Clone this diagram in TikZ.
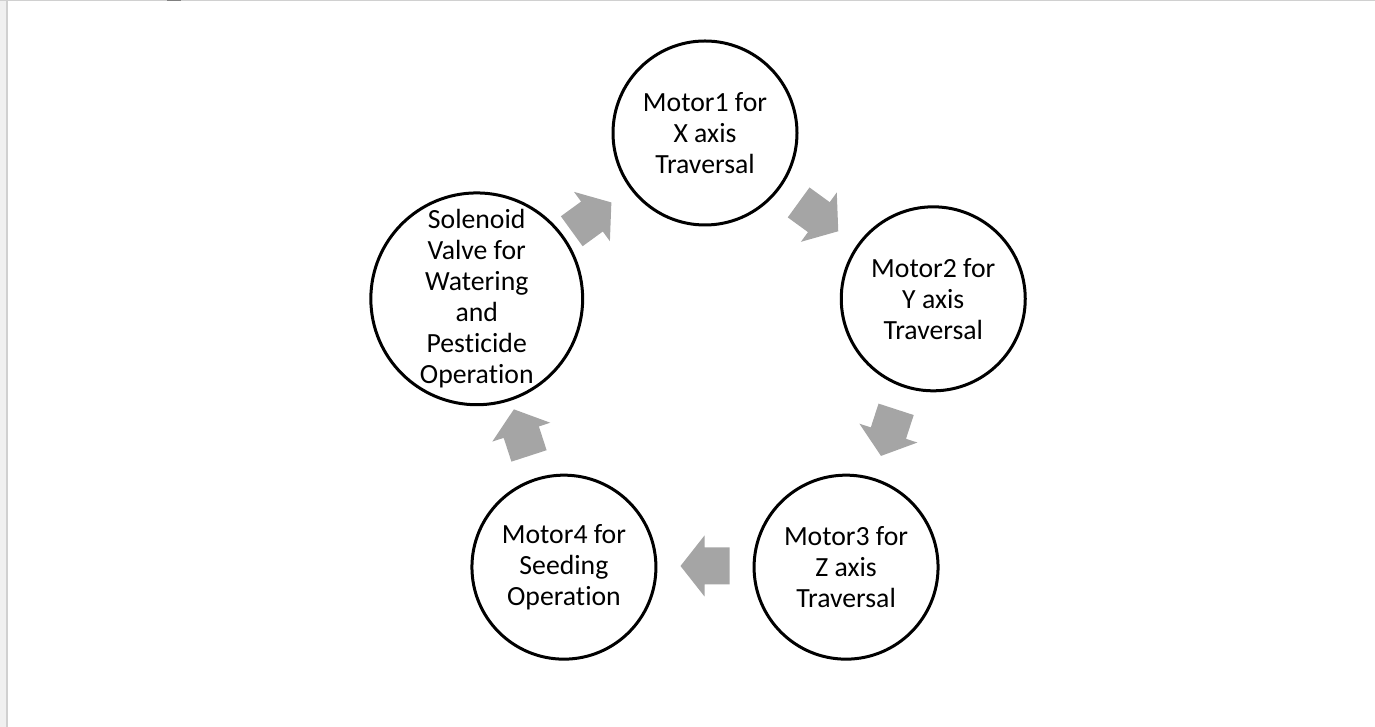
\documentclass[tikz,border=0pt]{standalone}
\usepackage{fontspec}
\setmainfont{Carlito}[Ligatures=NoCommon]
\usetikzlibrary{calc}
\definecolor{arrowgray}{HTML}{A5A5A5}
\definecolor{edgegray}{HTML}{D0D0D0}
\definecolor{stripgray}{HTML}{F0F0F0}

\tikzset{
  unit/.style={circle, draw=black, line width=2.25pt, minimum size=138pt, inner sep=0pt,
    align=center, font=\fontsize{20.8}{23.25}\selectfont},
  blockarrow/.pic={
    \fill[arrowgray] (-24.5,-18.5) -- (0.5,-18.5) -- (0.5,-30.5) -- (24.5,0)
      -- (0.5,30.5) -- (0.5,18.5) -- (-24.5,18.5) -- cycle;
  }
}

\begin{document}
\begin{tikzpicture}[x=0.75pt, y=0.75pt]
	\useasboundingbox (0,0) rectangle (1375,727);
	% window frame
	\fill[stripgray] (0,0) rectangle (6,727);
	\fill[edgegray] (6,0) rectangle (7.5,727);
	\fill[edgegray] (0,725.5) rectangle (1375,727);
	\fill[gray] (167,725.5) rectangle (181,727);
	
	\coordinate (O) at (705,354);
	
	\node[unit] (M1) at ($(O)+(90:240)$) {Motor1 for\\X axis\\Traversal};
	\node[unit] (M2) at ($(O)+(18:240)$) {Motor2 for\\Y axis\\Traversal};
	\node[unit] (M3) at ($(O)+(-54:240)$) {Motor3 for\\Z axis\\Traversal};
	\node[unit] (M4) at ($(O)+(-126:240)$) {Motor4 for\\Seeding\\Operation};
	\node[unit, minimum size=158pt] (SV) at ($(O)+(162:240)$) {Solenoid\\Valve for\\Watering\\and\\Pesticide\\Operation};
	
	% arrows round the cycle
	\foreach \a in {54,-18,-90,-162,126}
		\pic[rotate=\a-90] at ($(O)+(\a:193)$) {blockarrow};
\end{tikzpicture}
\end{document}
